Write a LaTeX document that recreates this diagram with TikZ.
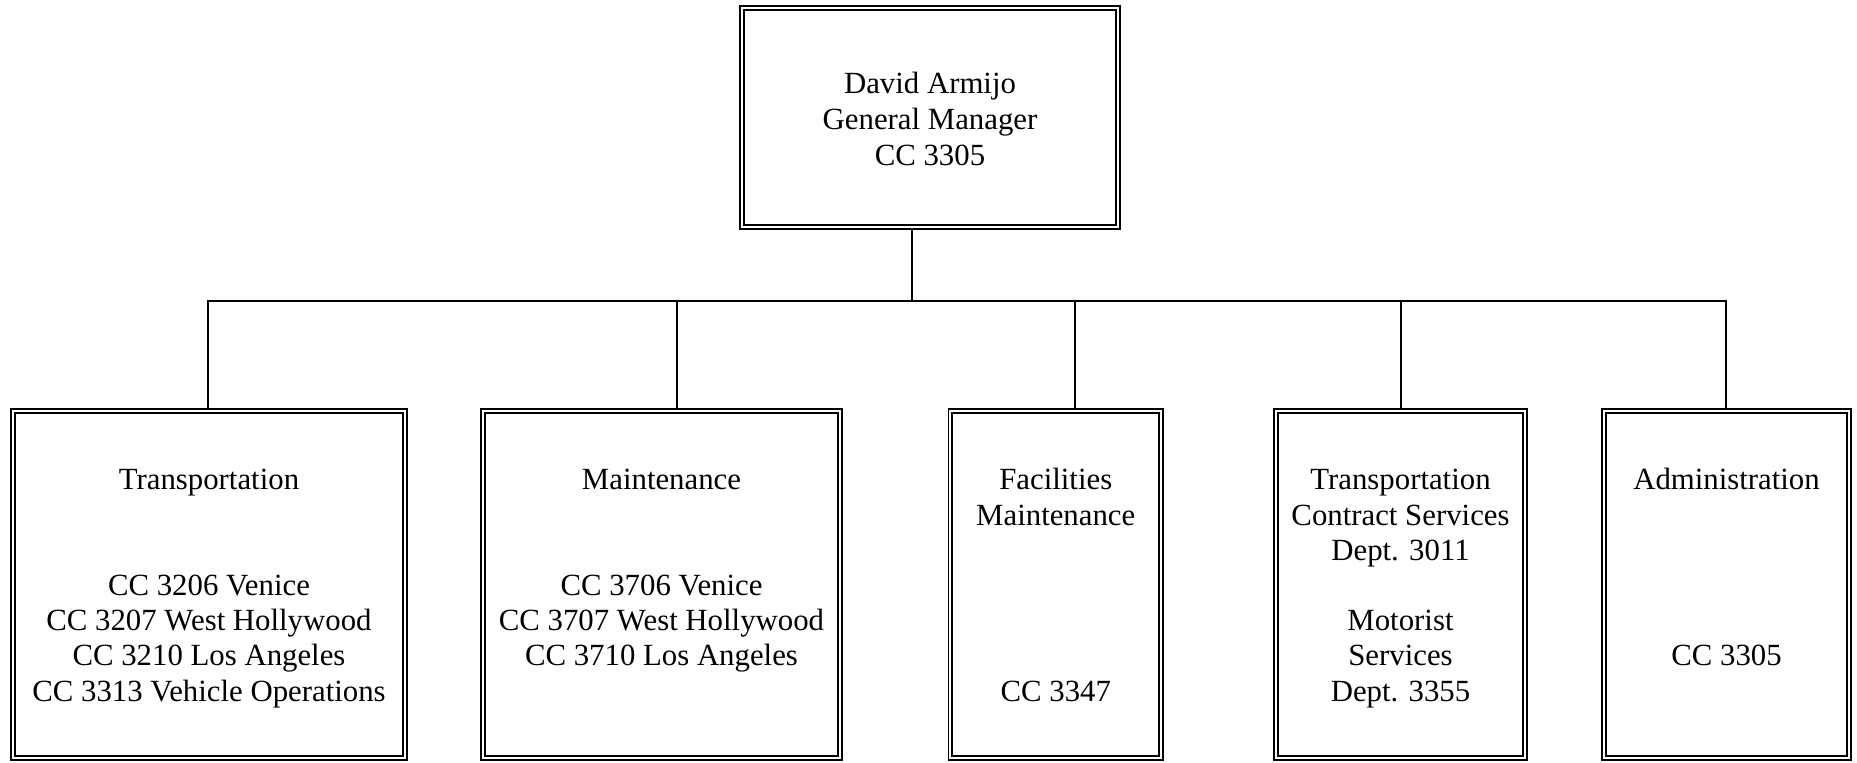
\documentclass[tikz,border=0pt]{standalone}
\usepackage{fontspec}
\setmainfont{Liberation Serif}
\newcommand{\topstrut}[1]{\rule{0pt}{#1}}
\begin{document}
\begin{tikzpicture}[x=0.5pt,y=-0.5pt,
  box/.style={draw=black, double=white, double distance=1pt, line width=0.9pt,
    inner sep=0pt, outer sep=1.4pt, align=center,
    font=\fontsize{15.4}{17.6}\selectfont},
  conn/.style={draw=black, line width=1pt, line join=miter}]
\useasboundingbox (0,0) rectangle (1857,762);
\node[box, minimum width=188.2pt, minimum height=109.7pt,
  font=\fontsize{15.4}{18}\selectfont] (gm) at (930,117.5)
  {\topstrut{17.3pt}David Armijo\\\strut General Manager\\\strut CC 3305};
\node[box, minimum width=196.2pt, minimum height=173.7pt] (b1) at (209,584.5)
  {\topstrut{16.3pt}Transportation\\\strut\\\strut\\\strut CC 3206 Venice\\\strut CC 3207 West Hollywood\\\strut CC 3210 Los Angeles\\\strut CC 3313 Vehicle Operations};
\node[box, minimum width=178.7pt, minimum height=173.7pt] (b2) at (661.5,584.5)
  {\topstrut{16.3pt}Maintenance\\\strut\\\strut\\\strut CC 3706 Venice\\\strut CC 3707 West Hollywood\\\strut CC 3710 Los Angeles\\\strut};
\node[box, minimum width=105.45pt, minimum height=173.7pt] (b3) at (1055.75,584.5)
  {\topstrut{16.3pt}Facilities\\\strut Maintenance\\\strut\\\strut\\\strut\\\strut\\\strut CC 3347};
\node[box, minimum width=124.7pt, minimum height=173.7pt] (b4) at (1400.5,584.5)
  {\topstrut{16.3pt}Transportation\\\strut Contract Services\\\strut Dept. 3011\\\strut\\\strut Motorist\\\strut Services\\\strut Dept. 3355};
\node[box, minimum width=122.7pt, minimum height=173.7pt] (b5) at (1726.5,584.5)
  {\topstrut{16.3pt}Administration\\\strut\\\strut\\\strut\\\strut\\\strut CC 3305\\\strut};
\coordinate (bus) at ([xshift=-9pt,yshift=-35.5pt]gm.south);
\draw[conn] ([xshift=-9pt]gm.south) -- (bus);
\draw[conn] ([xshift=-0.5pt]b1.north) |- (bus) -| ([xshift=-0.25pt]b5.north);
\draw[conn] ([xshift=7.75pt]b2.north) -- ([xshift=7.75pt]b2.north |- bus);
\draw[conn] ([xshift=9.6pt]b3.north) -- ([xshift=9.6pt]b3.north |- bus);
\draw[conn] ([xshift=0.25pt]b4.north) -- ([xshift=0.25pt]b4.north |- bus);
\end{tikzpicture}
\end{document}
